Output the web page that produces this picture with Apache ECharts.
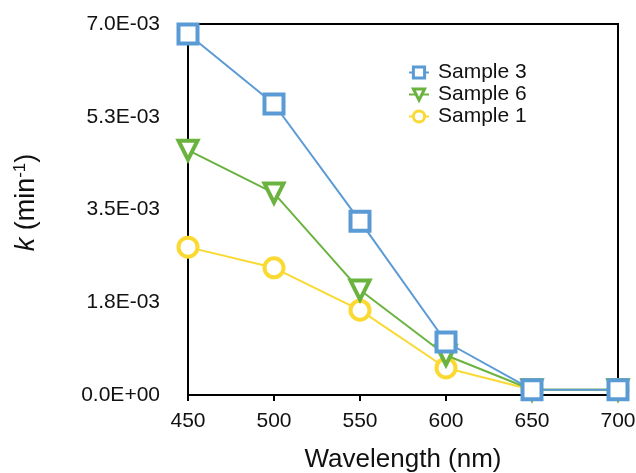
<!DOCTYPE html>
<html>
<head>
<meta charset="utf-8">
<script src="https://cdn.jsdelivr.net/npm/echarts@6/dist/echarts.min.js"></script>
<style>
  html, body { margin: 0; padding: 0; background: #fff; }
  #chart { width: 636px; height: 473px; }
</style>
</head>
<body>
<div id="chart"></div>
<script>
// Rate constant k versus illumination wavelength
const wavelengths = [450, 500, 550, 600, 650, 700];
const sample3 = [0.00681, 0.00549, 0.00328, 0.00100, 0.00010, 0.00010];
const sample6 = [0.00462, 0.00381, 0.00198, 0.00075, 0.00010, 0.00010];
const sample1 = [0.00279, 0.00240, 0.00160, 0.00051, 0.00010, 0.00010];
const yTickLabels = ['0.0E+00', '1.8E-03', '3.5E-03', '5.3E-03', '7.0E-03'];
const yStep = 0.00175;

const FONT = 'Liberation Sans, Arial, sans-serif';
const INK = '#111';

function pairs(vals) {
  return wavelengths.map((w, i) => [w, vals[i]]);
}

function makeSeries(name, vals, color, symbol, rotate, z) {
  return {
    name: name,
    type: 'line',
    data: pairs(vals),
    z: z,
    clip: false,
    symbol: symbol,
    symbolRotate: rotate,
    symbolSize: 19,
    showAllSymbol: true,
    lineStyle: { color: color, width: 2 },
    itemStyle: { color: '#ffffff', borderColor: color, borderWidth: 4 },
    emphasis: { disabled: true }
  };
}

const chart = echarts.init(document.getElementById('chart'), null, { renderer: 'canvas' });
chart.setOption({
  animation: false,
  backgroundColor: '#ffffff',
  textStyle: { fontFamily: FONT },
  grid: {
    left: 188, right: 18, top: 24, bottom: 78,
    containLabel: false,
    outerBoundsMode: 'none',
    show: true, borderColor: '#000', borderWidth: 2
  },
  legend: {
    data: ['Sample 3', 'Sample 6', 'Sample 1'],
    orient: 'vertical',
    left: 403, top: 57,
    itemWidth: 20, itemHeight: 14, itemGap: 1,
    itemStyle: { borderWidth: 3 },
    textStyle: { fontSize: 21, color: INK, fontFamily: FONT, padding: [0, 0, 0, 4] }
  },
  xAxis: {
    type: 'value',
    min: 450, max: 700, interval: 50,
    name: 'Wavelength (nm)',
    nameLocation: 'middle',
    nameGap: 52,
    nameMoveOverlap: false,
    nameTextStyle: { fontSize: 26, color: INK, fontFamily: FONT },
    axisLine: { lineStyle: { color: '#000', width: 2 } },
    axisTick: { show: true, length: 6, lineStyle: { color: '#000', width: 2 } },
    axisLabel: { fontSize: 21, color: INK, margin: 16, fontFamily: FONT },
    splitLine: { show: false }
  },
  yAxis: {
    type: 'value',
    min: 0, max: 0.007, interval: yStep,
    name: '{i|k} (min{s|-1})',
    nameLocation: 'middle',
    nameGap: 147,
    nameMoveOverlap: false,
    nameRotate: 90,
    nameTextStyle: {
      fontSize: 27, color: INK, fontFamily: FONT,
      padding: [0, 0, 0, 14],
      rich: {
        i: { fontSize: 27, fontStyle: 'italic', color: INK, fontFamily: FONT },
        s: { fontSize: 17, verticalAlign: 'top', padding: [0, 0, 12, 0], color: INK, fontFamily: FONT }
      }
    },
    axisLine: { show: true, lineStyle: { color: '#000', width: 2 } },
    axisTick: { show: false },
    axisLabel: {
      fontSize: 21, color: INK, margin: 28, fontFamily: FONT,
      formatter: function (v) { return yTickLabels[Math.round(v / yStep)]; }
    },
    splitLine: { show: false }
  },
  series: [
    makeSeries('Sample 3', sample3, '#5B9BD5', 'rect', 0, 4),
    makeSeries('Sample 6', sample6, '#6BB33F', 'triangle', 180, 3),
    makeSeries('Sample 1', sample1, '#FAD932', 'circle', 0, 2)
  ]
});
</script>
</body>
</html>
